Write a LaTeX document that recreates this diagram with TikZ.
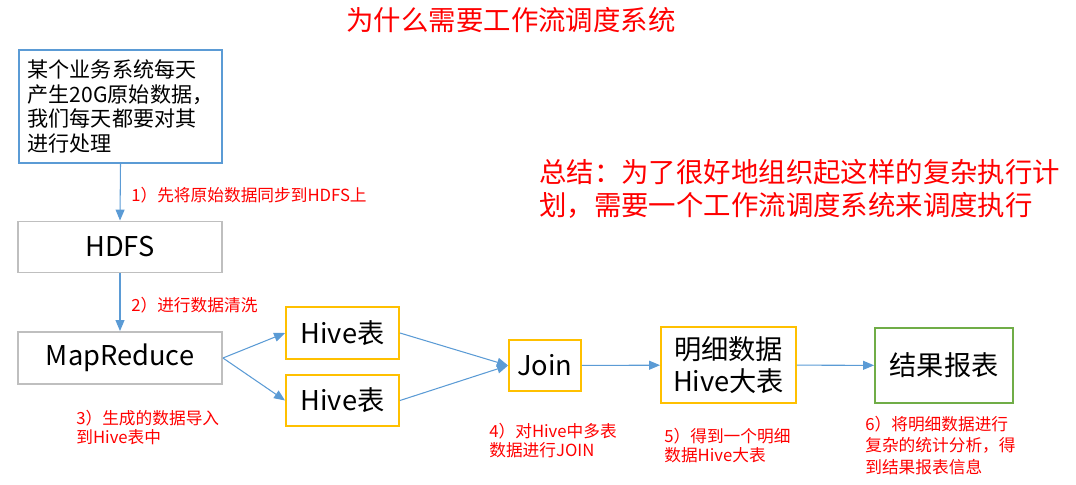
\documentclass[tikz,border=0pt]{standalone}
\usepackage{fontspec}
\setmainfont{Noto Sans CJK SC}
\usetikzlibrary{arrows.meta,positioning}
\definecolor{srcBlue}{RGB}{91,155,213}
\definecolor{boxGray}{RGB}{191,191,191}
\definecolor{hiveGold}{RGB}{255,192,0}
\definecolor{reportGreen}{RGB}{112,173,71}
\definecolor{noteRed}{RGB}{255,0,0}
\colorlet{flowBlue}{srcBlue}

\begin{document}
\begin{tikzpicture}[x=0.02cm,y=-0.02cm,
        box/.style={draw=boxGray,line width=1.1pt,fill=white,inner sep=0pt,align=center,minimum width=4.08cm,minimum height=1.02cm,font=\fontsize{15.5}{18}\selectfont},
        hive/.style={box,draw=hiveGold,minimum width=2.26cm},
        note/.style={text=noteRed,inner sep=0pt,align=left,anchor=west,font=\fontsize{9.5}{10.8}\selectfont},
        flow/.style={-{Triangle[length=2.2mm,width=1.8mm]},line width=0.6pt,flowBlue}
      ]
        \useasboundingbox (0,0) rectangle (1076,484);
        % title and summary
        \node[text=noteRed,font=\fontsize{15.6}{18}\selectfont] (title) at (511,20) {为什么需要工作流调度系统};
        \node[text=noteRed,align=left,anchor=west,inner sep=0pt,font=\fontsize{15.6}{18.8}\selectfont] (sum) at (539,188.5) {总结：为了很好地组织起这样的复杂执行计\\划，需要一个工作流调度系统来调度执行};
        % boxes
        \node[box,draw=srcBlue,align=left,minimum width=4.06cm,minimum height=2.26cm,font=\fontsize{12}{13.9}\selectfont] (src) at (120.5,106.5) {某个业务系统每天\\产生20G原始数据，\\我们每天都要对其\\进行处理};
        \node[box] (hdfs) at (120,247) {HDFS};
        \node[box,minimum height=1.04cm] (mr) at (120,358) {MapReduce};
        \node[hive,minimum height=1.04cm] (hiveA) at (342.5,333) {Hive表};
        \node[hive] (hiveB) at (342.5,400.5) {Hive表};
        \node[hive,minimum width=1.44cm] (join) at (545,365.5) {Join};
        \node[hive,minimum width=2.7cm,minimum height=1.52cm,font=\fontsize{15.5}{18.5}\selectfont] (detail) at (728.5,365) {明细数据\\Hive大表};
        \node[box,draw=reportGreen,minimum width=2.76cm,minimum height=1.5cm] (report) at (944,365.5) {结果报表};
        % arrows
        \draw[flow] (src.south) -- (hdfs.north);
        \draw[flow] (hdfs) -- (mr);
        \draw[flow] (mr.east) -- (hiveA.west);
        \draw[flow] (mr.east) -- (hiveB.west);
        \draw[flow] (hiveA.east) -- (join.west);
        \draw[flow] (hiveB.east) -- (join.west);
        \draw[flow] (join) -- (detail);
        \draw[flow] (detail) -- (report);
        % step notes
        \node[note] (n1) at (131,195) {1）先将原始数据同步到HDFS上};
        \node[note] (n2) at (131,305) {2）进行数据清洗};
        \node[note] (n3) at (76,427.5) {3）生成的数据导入\\到Hive表中};
        \node[note] (n4) at (489,440.5) {4）对Hive中多表\\数据进行JOIN};
        \node[note] (n5) at (664,445.5) {5）得到一个明细\\数据Hive大表};
        \node[note,font=\fontsize{9.5}{12.2}\selectfont] (n6) at (865,445.5) {6）将明细数据进行\\复杂的统计分析，得\\到结果报表信息};
      \end{tikzpicture}
\end{document}
